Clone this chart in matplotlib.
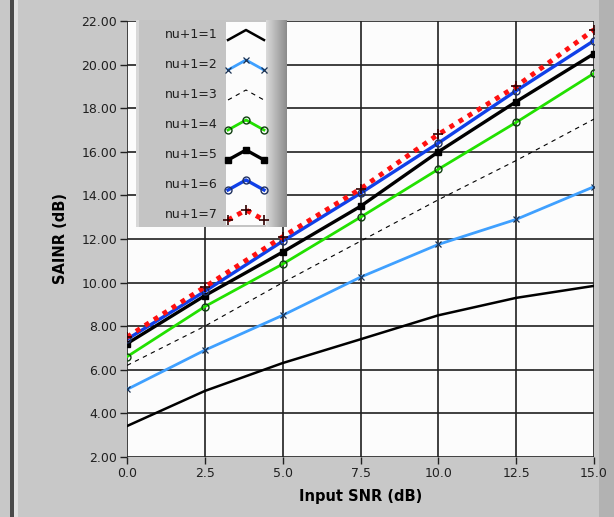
import numpy as np
import matplotlib.pyplot as plt
from matplotlib.patches import Rectangle

# data
snr = [0.0, 2.5, 5.0, 7.5, 10.0, 12.5, 15.0]
nu1 = [3.42, 5.03, 6.31, 7.40, 8.50, 9.30, 9.85]
nu2 = [5.10, 6.90, 8.50, 10.25, 11.75, 12.90, 14.40]
nu3 = [6.20, 8.00, 10.00, 11.90, 13.80, 15.60, 17.50]
nu4 = [6.60, 8.90, 10.85, 13.00, 15.20, 17.35, 19.60]
nu5 = [7.20, 9.40, 11.40, 13.50, 16.00, 18.30, 20.50]
nu6 = [7.40, 9.60, 11.90, 14.10, 16.40, 18.80, 21.10]
nu7 = [7.50, 9.80, 12.10, 14.30, 16.80, 19.00, 21.60]
labels = ["nu+1=1", "nu+1=2", "nu+1=3", "nu+1=4", "nu+1=5", "nu+1=6", "nu+1=7"]
xticks = [0.0, 2.5, 5.0, 7.5, 10.0, 12.5, 15.0]
yticks = [2, 4, 6, 8, 10, 12, 14, 16, 18, 20, 22]

styles = [
    dict(color="black", lw=1.8, ls="-", marker=None),
    dict(color="#3fa0ff", lw=2.0, ls="-", marker="x", ms=5, mec="#1a3050", mew=0.9),
    dict(color="black", lw=0.8, ls=(0, (4, 4)), marker=None),
    dict(color="#22e000", lw=2.0, ls="-", marker="o", ms=5, mfc="none", mec="#104010", mew=1.0),
    dict(color="black", lw=2.4, ls="-", marker="s", ms=5, mfc="black", mec="black"),
    dict(color="#1040e8", lw=2.4, ls="-", marker="o", ms=5, mfc="none", mec="#203060", mew=1.0),
    dict(color="#ff1010", lw=3.5, ls=(0, (1, 1.2)), marker="+", ms=7, mec="#300000", mew=1.2),
]
series = [nu1, nu2, nu3, nu4, nu5, nu6, nu7]

bg = "#c8c8c8"
fig = plt.figure(figsize=(6.14, 5.17), dpi=100, facecolor=bg)

# panel decorations
fig.patches.append(Rectangle((0, 0), 1, 1, transform=fig.transFigure, fc=bg, ec="none", zorder=-10))
fig.patches.append(Rectangle((599/614, 0), 15/614, 1, transform=fig.transFigure, fc="#b2b2b2", ec="none", zorder=-9))
fig.patches.append(Rectangle((10/614, 0), 4/614, 1, transform=fig.transFigure, fc="#4a4a4a", ec="none", zorder=-9))
fig.patches.append(Rectangle((14/614, 0), 4/614, 1, transform=fig.transFigure, fc="#e0e0e0", ec="none", zorder=-9))

ax = fig.add_axes([127/614, 1 - 457/517, 467/614, 436/517])
ax.set_facecolor("#fcfcfc")
for s, st in zip(series, styles):
    ax.plot(snr, s, **st, zorder=3)

ax.set_xlim(0, 15)
ax.set_ylim(2, 22)
ax.set_xticks(xticks)
ax.set_yticks(yticks)
ax.set_xticklabels([f"{v:.1f}" for v in xticks])
ax.set_yticklabels([f"{v:.2f}" for v in yticks])
ax.grid(True, color="#202020", lw=1.2, zorder=1)
for sp in ax.spines.values():
    sp.set_visible(False)
ax.tick_params(axis="both", labelsize=9, colors="#202020", length=5, width=1, direction="out", pad=2)
ax.set_xlabel("Input SNR (dB)", fontsize=10.5, fontweight="bold", labelpad=7)
ax.set_ylabel("SAINR (dB)", fontsize=10.5, fontweight="bold", labelpad=10)

# LabVIEW-style legend
lx0, ly0, lw, lh = 136/614, 1 - 227/517, 151/614, 207/517
lg = fig.add_axes([lx0, ly0, lw, lh])
lg.set_xlim(136, 287)
lg.set_ylim(227, 20)
lg.axis("off")
lg.add_patch(Rectangle((136, 20), 151, 207, fc="#c4c4c4", ec="none"))
lg.add_patch(Rectangle((136, 20), 3, 207, fc="#d8d8d8", ec="none"))
lg.add_patch(Rectangle((226, 22), 40, 203, fc="#fcfcfc", ec="none"))
shade = np.linspace(0.85, 0.55, 21)
for i, g in enumerate(shade):
    lg.add_patch(Rectangle((266 + i, 20), 1.05, 207, fc=(g, g, g), ec="none"))
for i, (lab, st) in enumerate(zip(labels, styles)):
    yc = 35 + i * 30
    lg.text(218, yc, lab, ha="right", va="center", fontsize=9, color="#202020")
    lg.plot([228, 246, 264], [yc + 5, yc - 5, yc + 5], **st)

fig.savefig("out.png", dpi=100, facecolor=bg)
